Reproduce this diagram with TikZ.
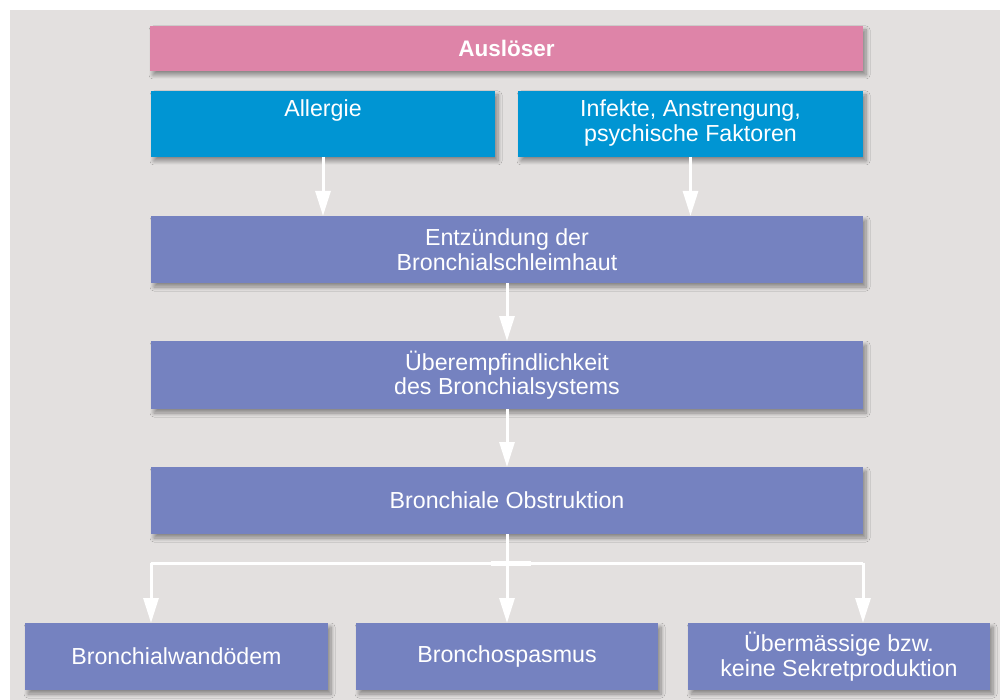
\documentclass[tikz,border=0pt]{standalone}
\usepackage{fontspec}
\setmainfont{Liberation Sans}
\usetikzlibrary{arrows.meta,shadows.blur}
\definecolor{bgc}{HTML}{E3E0DF}
\definecolor{pinkc}{HTML}{DE84A8}
\definecolor{bluec}{HTML}{0095D3}
\definecolor{purc}{HTML}{7582C0}
\tikzset{
  box/.style={draw=none, inner sep=0pt, outer sep=0pt, align=center, text=white,
    font=\fontsize{23.2}{24.5}\selectfont,
    blur shadow={shadow xshift=3pt, shadow yshift=-4pt, shadow blur steps=8, shadow opacity=40, shadow blur radius=4pt}},
  pbox/.style={box, fill=purc},
  arr/.style={draw=white, line width=3pt, -{Triangle[width=15pt,length=25pt]}},
  wline/.style={draw=white, line width=3pt}
}
\begin{document}
\begin{tikzpicture}[x=1pt,y=-1pt]
\useasboundingbox (0,0) rectangle (1000,700);
\fill[white] (0,0) rectangle (1000,700);
\fill[bgc] (10,10) rectangle (1000,700);

\node[box, fill=pinkc, minimum width=713pt, minimum height=45pt, font=\fontsize{22.5}{24.5}\selectfont\bfseries] (ausl) at (506.5,48.5) {Auslöser};
\node[box, fill=bluec, minimum width=344pt, minimum height=66pt] (allg) at (323,124) {\strut Allergie\\\strut};
\node[box, fill=bluec, minimum width=345pt, minimum height=66pt] (inf) at (690.5,124) {\strut Infekte, Anstrengung,\\\strut psychische Faktoren};
\node[pbox, minimum width=712pt, minimum height=67pt] (entz) at (507,249.5) {Entzündung der\\Bronchialschleimhaut};
\node[pbox, minimum width=712pt, minimum height=68pt] (ueber) at (507,375) {Überempfindlichkeit\\des Bronchialsystems};
\node[pbox, minimum width=712pt, minimum height=67pt] (obs) at (507,500.5) {Bronchiale Obstruktion};
\node[pbox, minimum width=303pt, minimum height=67pt] (b1) at (176.5,656.5) {Bronchialwandödem};
\node[pbox, minimum width=302pt, minimum height=67pt] (b2) at (507,656.5) {Bronchospasmus};
\node[pbox, minimum width=302pt, minimum height=67pt] (b3) at (839,656.5) {Übermässige bzw.\\keine Sekretproduktion};

\draw[arr] (allg.south) -- (allg.south |- entz.north);
\draw[arr] (inf.south) -- (inf.south |- entz.north);
\draw[arr] (entz.south) -- (ueber.north);
\draw[arr] (ueber.south) -- (obs.north);

\coordinate (jc) at (507,563);
\coordinate (jl) at (obs.west |- jc);
\coordinate (jr) at (obs.east |- jc);
\draw[wline] (jl) -- (jr);
\draw[arr] (jl) -- (jl |- b1.north);
\draw[arr] (jr) -- (jr |- b3.north);
\draw[white, line width=5pt] (491,563) -- (531,563);
\draw[arr] (obs.south) -- (b2.north);
\end{tikzpicture}
\end{document}
